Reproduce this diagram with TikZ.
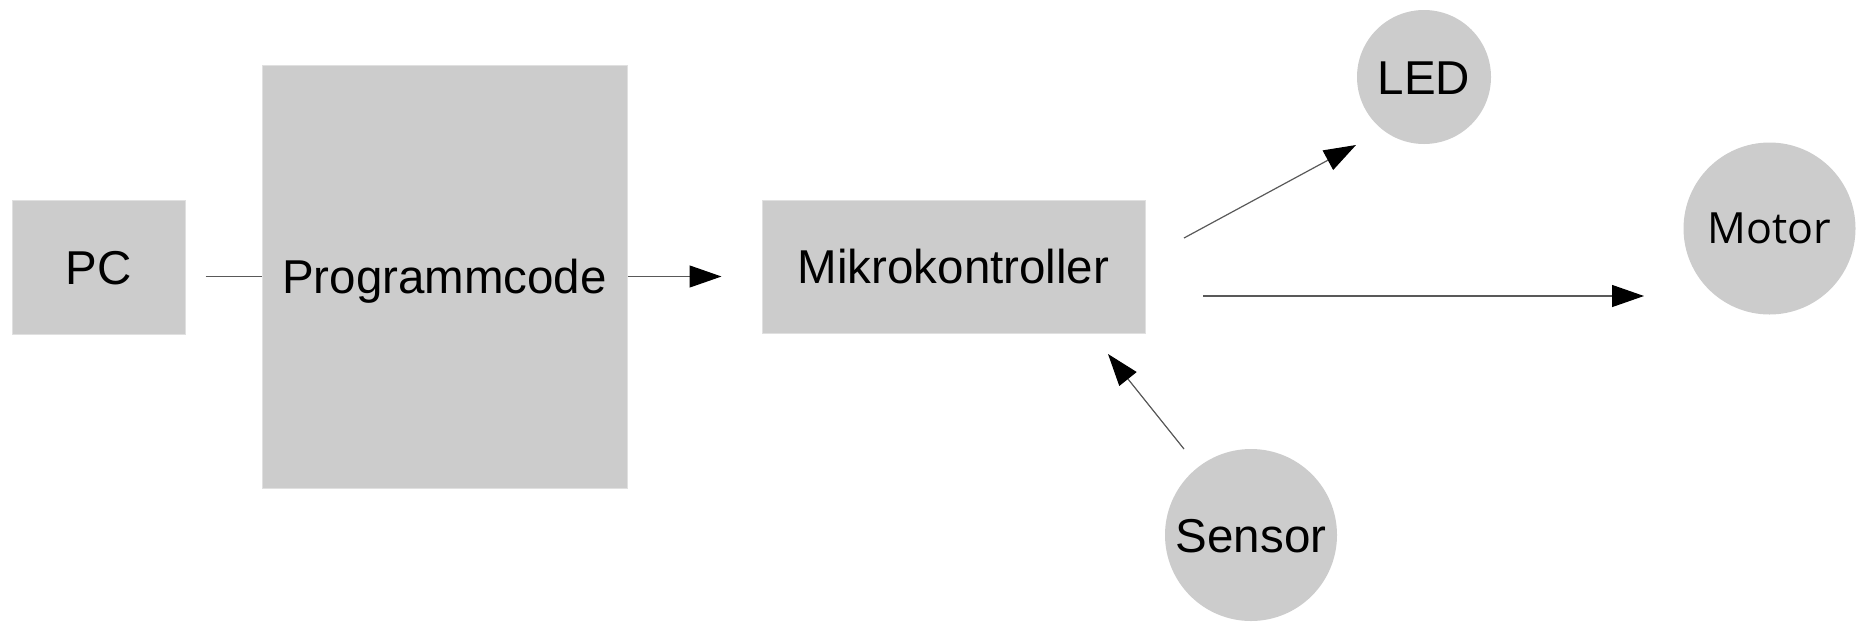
\documentclass[tikz,border=0pt]{standalone}
\usepackage{fontspec}
\setmainfont{Liberation Sans}
\newfontfamily\motorfont{Open Sans}
\usetikzlibrary{arrows.meta}

\tikzset{
  block/.style={rectangle, fill=black!20, draw=black!12, line width=1pt, inner sep=0pt},
  part/.style={circle, fill=black!20, inner sep=0pt},
  lbl/.style={font=\fontsize{47.5}{57}\selectfont, text=black, text height=34pt, text depth=0pt},
  conn/.style={draw=black!65, line width=1.2pt},
  arr/.style={conn, -{Triangle[length=32pt,width=22pt,color=black]}}
}

\begin{document}
\begin{tikzpicture}[x=1pt,y=-1pt]
  \useasboundingbox (0,0) rectangle (1862,622);

  % blocks
  \node[block, lbl, minimum width=173pt, minimum height=134pt] (pc) at (98.5,267) {PC};
  \node[block, lbl, minimum width=365pt, minimum height=423pt] (prog) at (444.5,276.5) {Programmcode};
  \node[block, lbl, minimum width=383pt, minimum height=133pt] (mikro) at (953.5,266.5) {Mikrokontroller};

  % peripherals
  \node[part, lbl, minimum size=134pt] (led) at (1424,77) {LED};
  \node[part, lbl, font=\motorfont\fontsize{43}{52}\selectfont, text height=30pt, minimum size=172pt] (motor) at (1769.5,228.5) {Motor};
  \node[part, lbl, minimum size=172pt] (sensor) at (1251,535) {Sensor};

  % free connector ends
  \coordinate (ledfrom) at (1184,238);
  \coordinate (ledto) at (1356,145);
  \coordinate (motorfrom) at (1203,296);
  \coordinate (motorto) at (1644,296);
  \coordinate (sensorfrom) at (1184,449);
  \coordinate (sensorto) at (1108,354);

  % connectors
  \draw[conn] ([xshift=20pt]pc.east |- prog.west) -- (prog.west);
  \draw[arr, shorten >=40pt] (prog.east) -- (prog.east -| mikro.west);
  \draw[arr] (ledfrom) -- (ledto);
  \draw[arr] (motorfrom) -- (motorto);
  \draw[arr] (sensorfrom) -- (sensorto);
\end{tikzpicture}
\end{document}
